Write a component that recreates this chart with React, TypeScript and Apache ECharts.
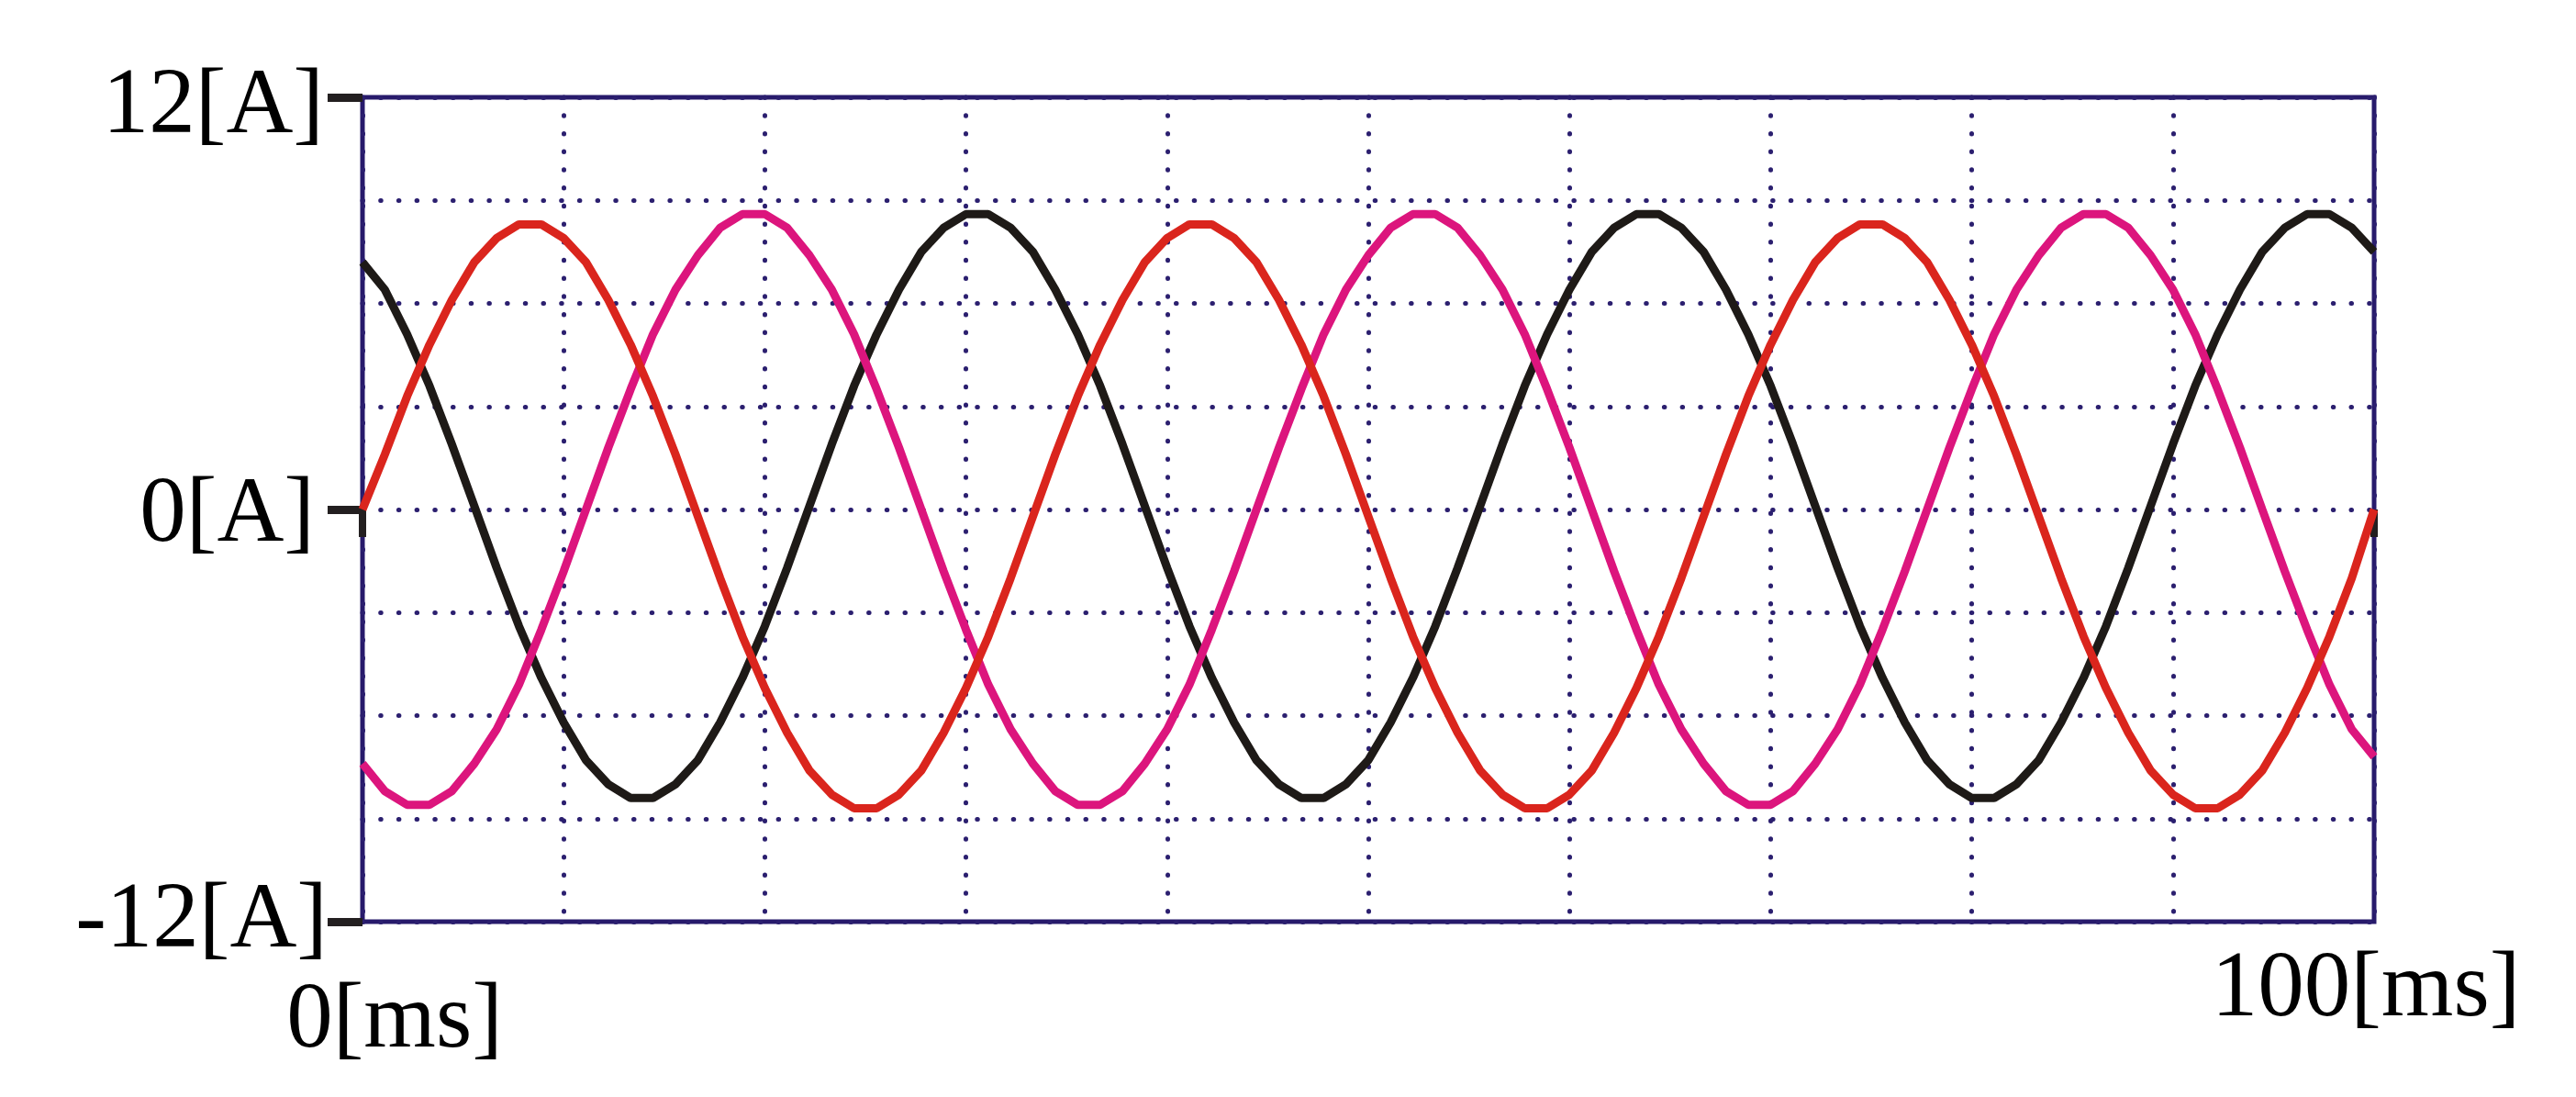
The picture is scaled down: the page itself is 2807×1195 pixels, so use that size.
import React, { useEffect, useRef } from 'react';
import * as echarts from 'echarts';

// Sample times [ms]
const timeMs = [
  0, 1.11, 2.22, 3.33, 4.44, 5.56, 6.67, 7.78, 8.89,
  10, 11.11, 12.22, 13.33, 14.44, 15.56, 16.67, 17.78, 18.89,
  20, 21.11, 22.22, 23.33, 24.44, 25.56, 26.67, 27.78, 28.89,
  30, 31.11, 32.22, 33.33, 34.44, 35.56, 36.67, 37.78, 38.89,
  40, 41.11, 42.22, 43.33, 44.44, 45.56, 46.67, 47.78, 48.89,
  50, 51.11, 52.22, 53.33, 54.44, 55.56, 56.67, 57.78, 58.89,
  60, 61.11, 62.22, 63.33, 64.44, 65.56, 66.67, 67.78, 68.89,
  70, 71.11, 72.22, 73.33, 74.44, 75.56, 76.67, 77.78, 78.89,
  80, 81.11, 82.22, 83.33, 84.44, 85.56, 86.67, 87.78, 88.89,
  90, 91.11, 92.22, 93.33, 94.44, 95.56, 96.67, 97.78, 98.89,
  100,
];

// Phase currents [A]
const currentRed = [
  0.0, 1.6, 3.3, 4.8, 6.1, 7.2, 7.9, 8.3, 8.3, 7.9, 7.2, 6.1, 4.8, 3.3, 1.6,
  -0.2, -2.0, -3.7, -5.2, -6.5, -7.6, -8.3, -8.7, -8.7, -8.3, -7.6, -6.5, -5.2, -3.7, -2.0,
  -0.2, 1.6, 3.3, 4.8, 6.1, 7.2, 7.9, 8.3, 8.3, 7.9, 7.2, 6.1, 4.8, 3.3, 1.6,
  -0.2, -2.0, -3.7, -5.2, -6.5, -7.6, -8.3, -8.7, -8.7, -8.3, -7.6, -6.5, -5.2, -3.7, -2.0,
  -0.2, 1.6, 3.3, 4.8, 6.1, 7.2, 7.9, 8.3, 8.3, 7.9, 7.2, 6.1, 4.8, 3.3, 1.6,
  -0.2, -2.0, -3.7, -5.2, -6.5, -7.6, -8.3, -8.7, -8.7, -8.3, -7.6, -6.5, -5.2, -3.7, -2.0,
  0.0,
];

const currentPink = [
  -7.4, -8.2, -8.6, -8.6, -8.2, -7.4, -6.4, -5.1, -3.5, -1.8, 0.0, 1.8, 3.5, 5.1, 6.4,
  7.4, 8.2, 8.6, 8.6, 8.2, 7.4, 6.4, 5.1, 3.5, 1.8, 0.0, -1.8, -3.5, -5.1, -6.4,
  -7.4, -8.2, -8.6, -8.6, -8.2, -7.4, -6.4, -5.1, -3.5, -1.8, 0.0, 1.8, 3.5, 5.1, 6.4,
  7.4, 8.2, 8.6, 8.6, 8.2, 7.4, 6.4, 5.1, 3.5, 1.8, 0.0, -1.8, -3.5, -5.1, -6.4,
  -7.4, -8.2, -8.6, -8.6, -8.2, -7.4, -6.4, -5.1, -3.5, -1.8, 0.0, 1.8, 3.5, 5.1, 6.4,
  7.4, 8.2, 8.6, 8.6, 8.2, 7.4, 6.4, 5.1, 3.5, 1.8, 0.0, -1.8, -3.5, -5.1, -6.4,
  -7.2,
];

const currentBlack = [
  7.2, 6.4, 5.1, 3.6, 1.9, 0.1, -1.7, -3.4, -4.9, -6.2, -7.3, -8.0, -8.4, -8.4, -8.0,
  -7.3, -6.2, -4.9, -3.4, -1.7, 0.1, 1.9, 3.6, 5.1, 6.4, 7.5, 8.2, 8.6, 8.6, 8.2,
  7.5, 6.4, 5.1, 3.6, 1.9, 0.1, -1.7, -3.4, -4.9, -6.2, -7.3, -8.0, -8.4, -8.4, -8.0,
  -7.3, -6.2, -4.9, -3.4, -1.7, 0.1, 1.9, 3.6, 5.1, 6.4, 7.5, 8.2, 8.6, 8.6, 8.2,
  7.5, 6.4, 5.1, 3.6, 1.9, 0.1, -1.7, -3.4, -4.9, -6.2, -7.3, -8.0, -8.4, -8.4, -8.0,
  -7.3, -6.2, -4.9, -3.4, -1.7, 0.1, 1.9, 3.6, 5.1, 6.4, 7.5, 8.2, 8.6, 8.6, 8.2,
  7.5,
];

const yTickValues = [-12, 0, 12];
const yTickLabels = ['-12[A]', '0[A]', '12[A]'];
const xTickValues = [0, 100];
const xTickLabels = ['0[ms]', '100[ms]'];

const FONT = "'Liberation Serif', 'Times New Roman', Times, serif";
const FONT_SIZE = 101;
const GRID_DOT = '#2b1f6f';
const FRAME = '#271a6b';
const TICK = '#231f20';

export default function App() {
  const ref = useRef<HTMLDivElement>(null);

  useEffect(() => {
    document.body.style.margin = '0';
    if (!ref.current) return;
    const chart = echarts.init(ref.current, undefined, { renderer: 'svg' });

    const dotLine = {
      color: GRID_DOT,
      width: 5,
      type: [0.5, 19.2] as number[],
      cap: 'round' as const,
    };
    const txt = { fontSize: FONT_SIZE, fontFamily: FONT, color: '#000000' };

    const mk = (arr: number[]) => timeMs.map((t, i) => [t, arr[i]]);

    chart.setOption({
      animation: false,
      backgroundColor: '#ffffff',
      grid: {
        left: 395,
        right: 220,
        top: 106,
        bottom: 191,
        show: true,
        borderColor: FRAME,
        borderWidth: 5,
        backgroundColor: 'transparent',
      },
      xAxis: [
        {
          type: 'value',
          min: 0,
          max: 100,
          interval: 100,
          position: 'bottom',
          axisLine: { show: false },
          axisTick: { show: true, length: 30, lineStyle: { color: TICK, width: 8 } },
          splitLine: { show: false },
          axisLabel: {
            margin: 17,
            ...txt,
            formatter: (v: number) => {
              const i = xTickValues.indexOf(v);
              if (i < 0) return '';
              return i === 0 ? `{a|${xTickLabels[i]}}` : `{b|${xTickLabels[i]}}`;
            },
            rich: {
              a: { ...txt, padding: [34, 0, 0, 70] },
              b: { ...txt, padding: [0, 18, 0, 0] },
            },
          },
        },
        {
          type: 'value',
          min: 0,
          max: 100,
          interval: 10,
          position: 'bottom',
          axisLine: { show: false },
          axisTick: { show: false },
          axisLabel: { show: false },
          splitLine: { show: true, lineStyle: dotLine },
        },
      ],
      yAxis: [
        {
          type: 'value',
          min: -12,
          max: 12,
          interval: 12,
          position: 'left',
          axisLine: { show: false },
          axisTick: { show: true, length: 38, lineStyle: { color: TICK, width: 9 } },
          splitLine: { show: false },
          axisLabel: {
            margin: 38,
            ...txt,
            formatter: (v: number) => {
              const i = yTickValues.indexOf(v);
              if (i < 0) return '';
              const key = i === 0 ? 'c' : i === 1 ? 'b' : 'a';
              return `{${key}|${yTickLabels[i]}}`;
            },
            rich: {
              a: { ...txt, padding: [8, 4, 0, 0] },
              b: { ...txt, padding: [0, 14, 0, 0] },
              c: { ...txt, padding: [0, 0, 14, 0] },
            },
          },
        },
        {
          type: 'value',
          min: -12,
          max: 12,
          interval: 3,
          position: 'left',
          axisLine: { show: false },
          axisTick: { show: false },
          axisLabel: { show: false },
          splitLine: { show: true, lineStyle: dotLine },
        },
      ],
      series: [
        {
          name: 'iB',
          type: 'line',
          data: mk(currentBlack),
          showSymbol: false,
          lineStyle: { color: '#1e1a17', width: 9 },
          itemStyle: { color: '#1e1a17' },
        },
        {
          name: 'iC',
          type: 'line',
          data: mk(currentPink),
          showSymbol: false,
          lineStyle: { color: '#dc157d', width: 9 },
          itemStyle: { color: '#dc157d' },
        },
        {
          name: 'iA',
          type: 'line',
          data: mk(currentRed),
          showSymbol: false,
          lineStyle: { color: '#da251d', width: 9 },
          itemStyle: { color: '#da251d' },
        },
      ],
    });

    return () => chart.dispose();
  }, []);

  return <div ref={ref} style={{ width: 2807, height: 1195 }} />;
}
